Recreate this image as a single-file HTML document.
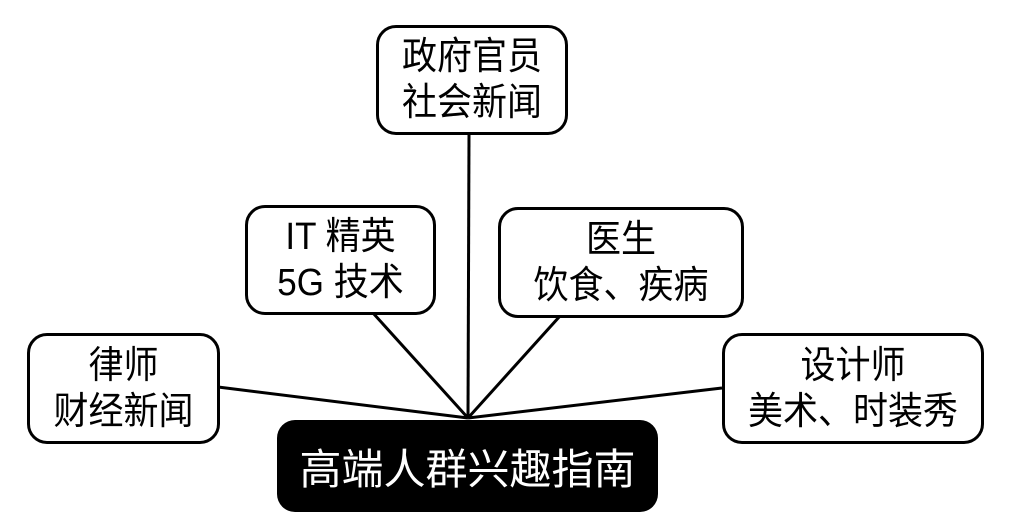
<!DOCTYPE html>
<html><head><meta charset="utf-8"><style>
html,body{margin:0;padding:0;background:#fff;}
body{width:1015px;height:527px;position:relative;overflow:hidden;font-family:"Liberation Sans","WenQuanYi Zen Hei","Noto Sans CJK SC",sans-serif;}
.b{position:absolute;border:3px solid #000;border-radius:20px;background:#fff;box-sizing:border-box;display:flex;flex-direction:column;justify-content:center;align-items:center;font-size:35px;line-height:46px;color:#000;text-align:center;}
.b div{transform:scaleY(1.08);}
.c{position:absolute;left:277px;top:420px;width:381px;height:92px;background:#000;border-radius:18px;color:#fff;font-size:42px;display:flex;align-items:center;justify-content:center;}
svg{position:absolute;left:0;top:0;}
</style></head><body>
<svg width="1015" height="527"><g stroke="#000" stroke-width="3">
<line x1="469" y1="134" x2="468" y2="418"/>
<line x1="373" y1="313" x2="468" y2="418"/>
<line x1="560" y1="316" x2="468" y2="418"/>
<line x1="218" y1="387" x2="468" y2="418"/>
<line x1="722" y1="388" x2="468" y2="418"/>
</g></svg>
<div class="b" style="left:376px;top:25px;width:192px;height:110px;"><div>政府官员</div><div>社会新闻</div></div>
<div class="b" style="left:245px;top:205px;width:191px;height:110px;"><div>IT 精英</div><div>5G 技术</div></div>
<div class="b" style="left:498px;top:207px;width:246px;height:111px;"><div>医生</div><div>饮食、疾病</div></div>
<div class="b" style="left:27px;top:333px;width:193px;height:111px;"><div>律师</div><div>财经新闻</div></div>
<div class="b" style="left:722px;top:333px;width:262px;height:111px;"><div>设计师</div><div>美术、时装秀</div></div>
<div class="c">高端人群兴趣指南</div>
</body></html>
